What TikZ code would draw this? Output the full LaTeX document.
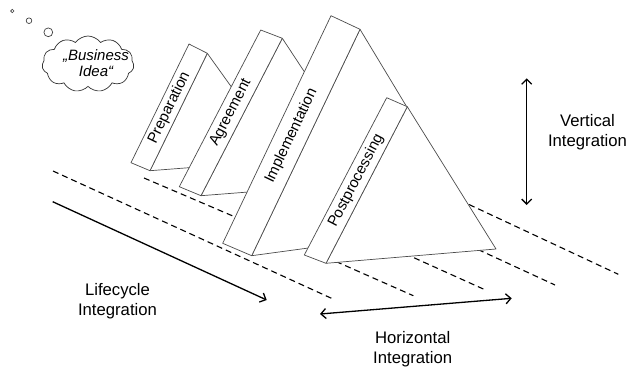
\documentclass[tikz,border=0pt]{standalone}
\usepackage{fontspec}
\setmainfont{Liberation Sans}
\usetikzlibrary{calc,shapes.symbols,arrows.meta}

\begin{document}
\begin{tikzpicture}[x=1pt,y=-1pt,
  face/.style={draw=black!70, line width=0.7pt, fill=white, line join=round},
  guide/.style={draw=black, line width=1.1pt, dash pattern=on 6pt off 4pt},
  barb/.tip={Straight Barb[length=5pt,width=10pt,line width=1.3pt]},
  flow/.style={draw=black, line width=1.3pt, -barb},
  flowboth/.style={draw=black, line width=1.3pt, barb-barb},
  tag/.style={font=\fontsize{15}{17}\selectfont, inner sep=0pt},
  caption/.style={font=\fontsize{16.7}{20.5}\selectfont, align=center, inner sep=0pt},
  bubble/.style={circle, draw=black!75, line width=0.7pt, inner sep=0pt},
]
\useasboundingbox (0,0) rectangle (637,367);

% ground guide lines (drawn first, the blocks hide their hidden parts)
\coordinate (d1a) at (144,178);    \coordinate (d1b) at (234,216.5);
\coordinate (d2a) at (53,171);     \coordinate (d2b) at (333,299);
\coordinate (d3a) at (336,261.5);  \coordinate (d3b) at (413.3,295.7);
\coordinate (d4a) at (405,253.7);  \coordinate (d4b) at (483.3,289);
\coordinate (d5a) at (478,249.5);  \coordinate (d5b) at (555,285);
\coordinate (d6a) at (460,200.3);  \coordinate (d6b) at (618.3,274.3);
\foreach \n in {1,...,6} \draw[guide] (d\n a) -- (d\n b);

% phase blocks: a slanted front face with a triangle behind it
% Preparation
\coordinate (pTL) at (189,44);    \coordinate (pTR) at (207.3,53.3);
\coordinate (pBR) at (150,170.7); \coordinate (pBL) at (131,162.7);
\coordinate (pR)  at (284,160.4);
% Agreement
\coordinate (aTL) at (260.7,30);  \coordinate (aTR) at (282.3,38.3);
\coordinate (aBR) at (201,195.7); \coordinate (aBL) at (179.3,186.7);
\coordinate (aR)  at (377,182);
% Implementation
\coordinate (iTL) at (331,15.7);  \coordinate (iTR) at (360,29.3);
\coordinate (iBR) at (251.7,255.7); \coordinate (iBL) at (222.7,243.3);
\coordinate (iR)  at (478,225);
% Postprocessing
\coordinate (qTL) at (386.7,97.7); \coordinate (qTR) at (407.3,106.7);
\coordinate (qBR) at (326,263.3);  \coordinate (qBL) at (304.3,255);
\coordinate (qR)  at (496,249);

\foreach \b/\txt in {p/Preparation, a/Agreement, i/Implementation, q/Postprocessing}{
  \draw[face] (\b TR) -- (\b R) -- (\b BR) -- cycle;
  \draw[face] (\b TL) -- (\b TR) -- (\b BR) -- (\b BL) -- cycle;
  \path ($(\b BL)!0.5!(\b BR)$) -- ($(\b TL)!0.5!(\b TR)$)
        node[midway, sloped, tag] (\b label) {\txt};
}

% integration arrows
\coordinate (lcA) at (52.7,201.7);  \coordinate (lcB) at (266.7,300);
\coordinate (hzA) at (320,314);     \coordinate (hzB) at (511.7,298.3);
\coordinate (vtA) at (526.7,78.3);  \coordinate (vtB) at (526.7,205);
\draw[flow] (lcA) -- (lcB);
\draw[flowboth] (hzA) -- (hzB);
\draw[flowboth] (vtA) -- (vtB);

\node[caption] (lifecycle) at (117.5,301) {Lifecycle\\Integration};
\node[caption] (horizontal) at (412.7,349) {Horizontal\\Integration};
\node[caption] (vertical) at (587.5,132) {Vertical\\Integration};

% thought cloud
\node[bubble, minimum size=3.4pt] (b1) at (12.3,11) {};
\node[bubble, minimum size=5.6pt] (b2) at (29,20.7) {};
\node[bubble, minimum size=8.8pt] (b3) at (48.3,32.3) {};
\node[cloud, cloud puffs=11, cloud puff arc=110, aspect=1.6,
      draw=black!80, line width=0.7pt, fill=white,
      minimum width=92pt, minimum height=56pt, inner sep=0pt] (idea) at (88,64) {};
\node[font=\fontsize{15}{15.5}\selectfont\itshape, align=center, inner sep=0pt]
      (ideatext) at (96,63) {„Business\\Idea“};
\end{tikzpicture}
\end{document}
